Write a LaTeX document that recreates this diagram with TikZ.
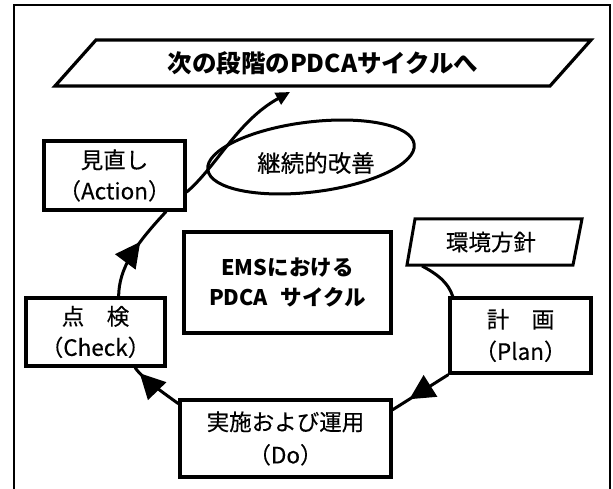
\documentclass[tikz,border=0pt]{standalone}
\usepackage{fontspec}
\setmainfont{Noto Sans CJK JP}
\newfontfamily\medfont{Noto Sans CJK JP}[FakeBold=0.35]
\usetikzlibrary{arrows.meta,calc,decorations.markings,shapes.geometric}
\begin{document}
\begin{tikzpicture}[x=1pt,y=-1pt,
  box/.style={draw, line width=3.2pt, inner sep=0pt, align=center,
    font=\medfont\fontsize{22.5}{31}\selectfont},
  label/.style={inner sep=0pt, align=center, font=\medfont\fontsize{22.5}{31}\selectfont},
  conn/.style={line width=3pt},
  outline/.style={line width=3.2pt, line join=miter},
  bigtip/.style={-{Triangle[length=14pt,width=13pt]}},
  midarrow/.style={postaction={decorate}, decoration={markings,
    mark=at position #1 with {\arrow{Triangle[length=25pt,width=25pt]}}}}
]
\useasboundingbox (0,0) rectangle (613,489);
% outer frame
\draw[line width=2pt] (14,492) -- (14,5) -- (610,5) -- (610,492);

% title parallelogram
\node[inner sep=0pt, font=\fontsize{24.5}{28}\bfseries\selectfont] (next) at (323,63) {次の段階のPDCAサイクルへ};
\draw[outline] ($(next.center)+(-268,23)$) -- ($(next.center)+(-227,-23)$)
  -- ($(next.center)+(268,-23)$) -- ($(next.center)+(227,23)$) -- cycle;
\coordinate (nexttip) at ($(next.center)+(-33,29)$);

% boxes
\node[box, minimum width=141pt, minimum height=69pt] (action) at (114.5,175.5) {見直し\\（Action）};
\node[box, minimum width=139pt, minimum height=68pt] (check) at (95.5,332) {点　検\\（Check）};
\node[box, minimum width=211pt, minimum height=77pt, font=\medfont\fontsize{22.5}{33}\selectfont] (do) at (285.5,438.5) {実施および運用\\（Do）};
\node[box, minimum width=141pt, minimum height=75pt, font=\medfont\fontsize{22.5}{32}\selectfont] (plan) at (520.5,335.5) {計　画\\（Plan）};
\node[box, minimum width=207pt, minimum height=101pt, font=\fontsize{21.5}{30}\bfseries\selectfont] (ems) at (287.5,282.5) {EMSにおける\\PDCA\hspace{.6em}サイクル};

% policy parallelogram
\node[label] (env) at (491,242) {環境方針};
\draw[line width=3pt, line join=miter] ($(env.center)+(-84,23)$) -- ($(env.center)+(-76,-23)$)
  -- ($(env.center)+(91,-23)$) -- ($(env.center)+(82,23)$) -- cycle;
\coordinate (envfoot) at ($(env.center)+(-69,24)$);

% continual improvement ellipse
\node[draw, ellipse, line width=3pt, rotate=7, minimum width=208pt, minimum height=70pt, inner sep=0pt] (kaizen) at (311,157) {};
\node[label, font=\medfont\fontsize{23.5}{26}\selectfont] (kaizentxt) at (316,163) {継続的改善};

% connectors
\draw[conn] (envfoot) .. controls (437,274) and (448,282) .. (plan.150);
\draw[conn, midarrow=0.7] (plan.south west) -- (do.15);
\draw[conn, midarrow=0.87] (do.162) .. controls (165,394) and (142,378) .. (check.-42);
\draw[conn, midarrow=0.6] (check.57) .. controls (119,268) and (135,245) .. (action.-35);
\draw[conn, bigtip] (action.-13) .. controls (217,166) and (237.5,121) .. (nexttip);
\end{tikzpicture}
\end{document}
